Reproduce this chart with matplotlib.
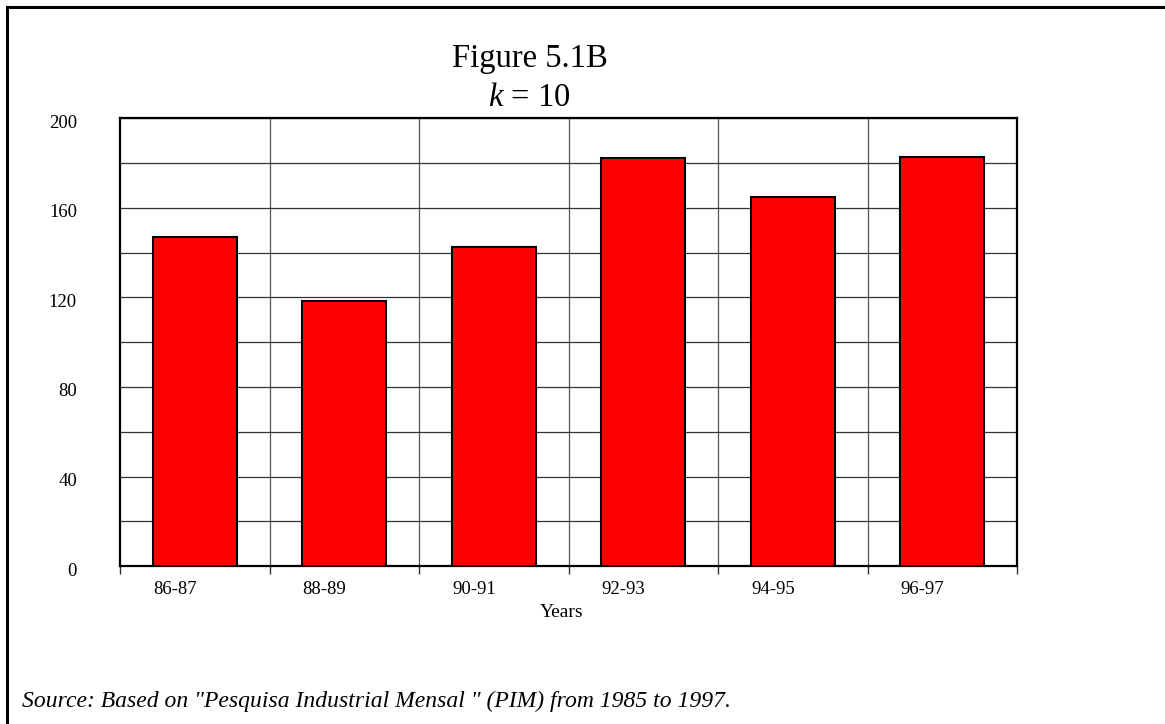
import matplotlib
matplotlib.use("Agg")
import matplotlib.pyplot as plt
import matplotlib.transforms as mtransforms
from matplotlib.lines import Line2D
import numpy as np

periods = ["86-87", "88-89", "90-91", "92-93", "94-95", "96-97"]
values = [147, 118.5, 142.5, 182.5, 165, 183]
y_major = [0, 40, 80, 120, 160, 200]
y_minor = [20, 60, 100, 140, 180]

plt.rcParams["font.family"] = ["Liberation Serif", "DejaVu Serif"]
plt.rcParams["mathtext.fontset"] = "custom"
plt.rcParams["mathtext.rm"] = "Liberation Serif"
plt.rcParams["mathtext.it"] = "Liberation Serif:italic"

W, H = 1165, 724
fig = plt.figure(figsize=(W / 100, H / 100), dpi=100)
ax = fig.add_axes([120 / W, 1 - 566 / H, (1017 - 120) / W, (566 - 118.5) / H])

x = np.arange(len(periods))
bar_w = 0.56
ax.bar(x, values, width=bar_w, color="#FF0000", edgecolor="black", linewidth=1.5, zorder=3)

ax.set_xlim(-0.5, len(periods) - 0.5)
ax.set_ylim(0, 200)

# horizontal grid every 20, labels every 40
ax.set_yticks(y_major)
ax.set_yticks(y_minor, minor=True)
ax.set_yticklabels([str(v) for v in y_major], fontsize=13.5)
ax.tick_params(axis="y", which="both", length=0, pad=31)
ax.grid(axis="y", which="both", color="#333333", linewidth=0.9, zorder=0)
shift = mtransforms.ScaledTranslation(0, -3 / 100, fig.dpi_scale_trans)
for lbl in ax.get_yticklabels():
    lbl.set_transform(lbl.get_transform() + shift)

# category boundaries: tick marks below the axis and vertical grid lines
bounds = np.arange(-0.5, len(periods), 1.0)
ax.set_xticks(bounds)
ax.set_xticklabels([])
ax.tick_params(axis="x", which="major", direction="out", length=6, width=1.0, color="#333333")
for b in bounds[1:-1]:
    ax.axvline(b, color="#555555", linewidth=0.9, zorder=0)

# category labels start at each bar's left edge
lab_tr = mtransforms.blended_transform_factory(ax.transData, fig.transFigure)
for xi, lab in zip(x, periods):
    ax.text(xi - bar_w / 2, 1 - 594 / H, lab, transform=lab_tr, ha="left",
            va="baseline", fontsize=13.5)

for s in ax.spines.values():
    s.set_linewidth(1.6)
    s.set_color("black")

fig.text(530 / W, 1 - 67 / H, "Figure 5.1B", ha="center", va="baseline", fontsize=23.5)
fig.text(529 / W, 1 - 106 / H, r"$k$ = 10", ha="center", va="baseline", fontsize=23.5)
fig.text(562 / W, 1 - 617 / H, "Years", ha="center", va="baseline", fontsize=14)
fig.text(22 / W, 1 - 707 / H,
         'Source: Based on "Pesquisa Industrial Mensal " (PIM) from 1985 to 1997.',
         ha="left", va="baseline", fontsize=17, style="italic")

# outer frame (top and left edges)
fig.add_artist(Line2D([7 / W, 7 / W], [0, 1 - 7 / H], transform=fig.transFigure,
                      color="black", linewidth=2.2))
fig.add_artist(Line2D([7 / W, 1], [1 - 7 / H, 1 - 7 / H], transform=fig.transFigure,
                      color="black", linewidth=2.2))

fig.savefig("out.png", dpi=100)
